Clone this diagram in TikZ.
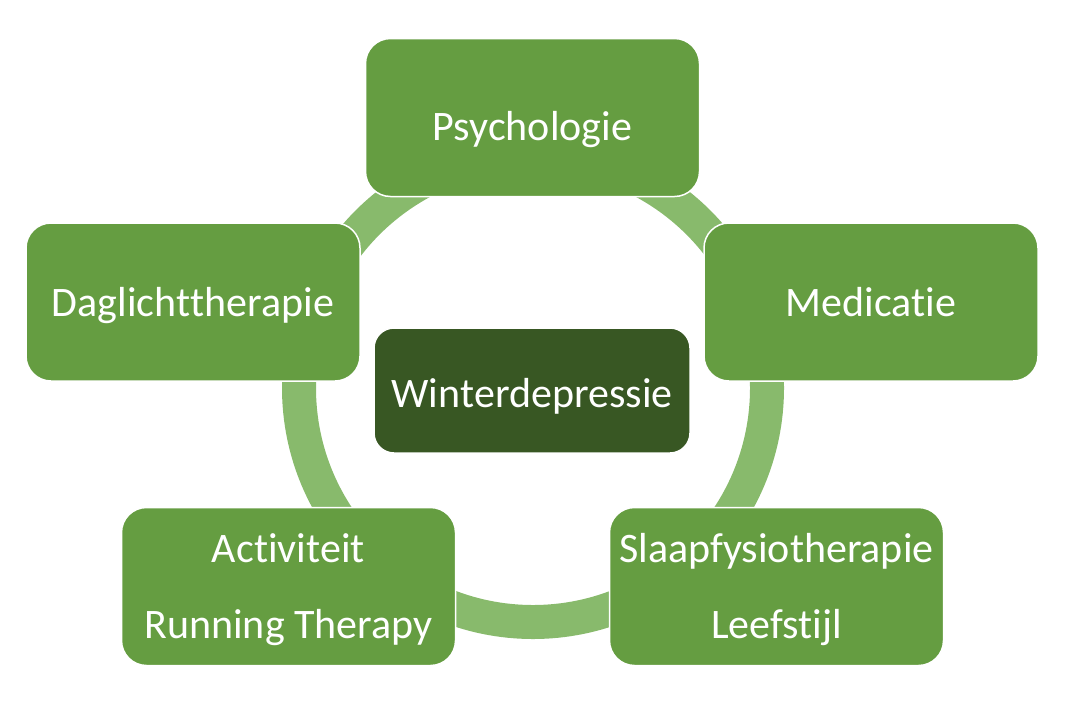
\documentclass[tikz,border=0pt]{standalone}
\usepackage{fontspec}
\setmainfont{Carlito}[Ligatures={CommonOff,ContextualOff},RawFeature=-clig,RawFeature=-liga]
\newcommand\nolg{\kern0pt\relax}
\definecolor{boxgreen}{HTML}{659D41}
\definecolor{ringgreen}{HTML}{88BA6C}
\definecolor{darkgreen}{HTML}{385723}
\tikzset{
  cyclebox/.style={rectangle, rounded corners=25pt, fill=boxgreen, draw=white,
    line width=1.5pt, inner sep=0pt, minimum width=334pt, minimum height=158pt,
    text=white, font=\fontsize{42pt}{76pt}\selectfont, text depth=0pt},
  centerbox/.style={cyclebox, fill=darkgreen, rounded corners=20pt,
    minimum width=316pt, minimum height=125pt},
  ringline/.style={draw=ringgreen, line width=34pt}
}
\begin{document}
\begin{tikzpicture}[x=1pt,y=-1pt]
\useasboundingbox (0,0) rectangle (1065,710);
\coordinate (ringc) at (533,388);
\draw[ringline] (ringc) circle (234);
\node[cyclebox, text height=45pt] (psy) at (532.5,117.5) {Psychologie};
\node[cyclebox, text height=29.4pt] (dag) at (193,302) {Daglicht\nolg t\nolg herapie};
\node[cyclebox, text height=28pt] (med) at (871,302) {Medicat\nolg ie};
\node[cyclebox, text height=103pt] (act) at (288.5,586.5)
  {\parbox[b]{330pt}{\centering Act\nolg ivit\nolg eit\\Running Therapy}};
\node[cyclebox, text height=103pt] (sla) at (776.5,586.5)
  {\parbox[b]{330pt}{\centering Slaapfysiot\nolg herapie\\Leefst\nolg ijl}};
\node[centerbox, text height=33pt] (win) at (532,390.5) {Wint\nolg erdepressie};
\end{tikzpicture}
\end{document}
